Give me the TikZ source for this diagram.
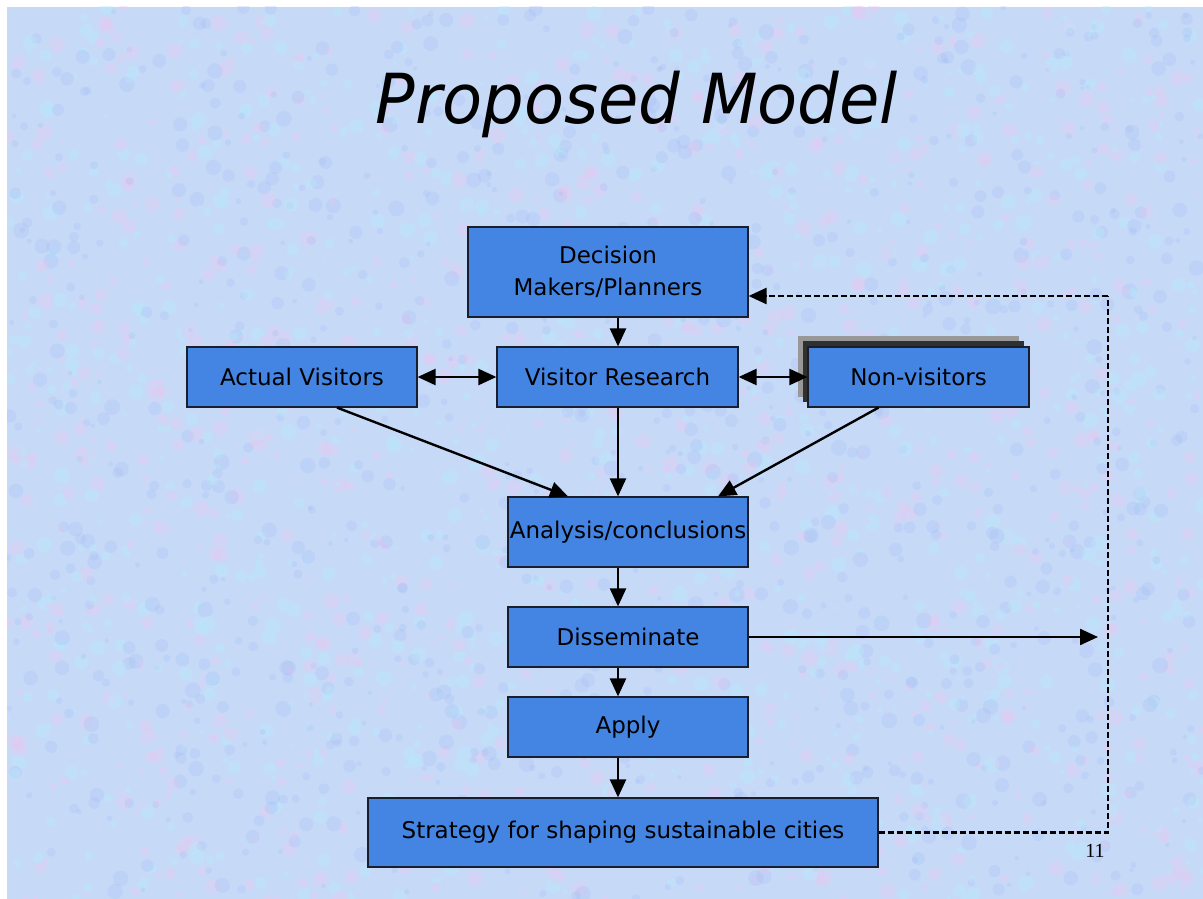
\documentclass[tikz,border=0pt]{standalone}
\usepackage{fontspec}
\setmainfont{DejaVu Sans}
\newfontfamily\numfont{Liberation Serif}
\usetikzlibrary{arrows.meta,calc}
\definecolor{bgbase}{RGB}{198,218,248}
\definecolor{bgpink}{RGB}{234,198,240}
\definecolor{bgcyan}{RGB}{182,234,252}
\definecolor{bgblue}{RGB}{166,190,244}
\definecolor{boxblue}{RGB}{68,133,227}
\definecolor{boxline}{RGB}{25,30,45}
\definecolor{shlight}{RGB}{152,152,152}
\definecolor{shdark}{RGB}{48,48,48}
\tikzset{
  box/.style={draw=boxline, line width=1.2pt, fill=boxblue, inner sep=0pt,
    font=\fontsize{23}{32}\selectfont, align=center, text=black},
  conn/.style={line width=2.4pt, -{Triangle[length=18pt,width=16pt]}},
  dconn/.style={line width=2.4pt, {Triangle[length=18pt,width=16pt]}-{Triangle[length=18pt,width=16pt]}},
  fbline/.style={line width=2.6pt, dash pattern=on 6pt off 3pt},
}
\begin{document}
\begin{tikzpicture}[x=1pt,y=-1pt]
\useasboundingbox (0,0) rectangle (1203,899);
\fill[white] (0,0) rectangle (1203,899);
\fill[bgbase] (7,7) rectangle (1203,899);
\begin{scope}
\clip (7,7) rectangle (1203,899);
\pgfmathsetseed{42}
\foreach \i in {1,...,3000}{
  \pgfmathsetmacro{\px}{7+rnd*1196}
  \pgfmathsetmacro{\py}{7+rnd*892}
  \pgfmathsetmacro{\pr}{2+rnd*6}
  \pgfmathsetmacro{\pc}{rnd}
  \ifdim\pc pt<0.33pt
    \fill[bgpink, opacity=0.35] (\px,\py) circle[radius=\pr];
  \else\ifdim\pc pt<0.66pt
    \fill[bgcyan, opacity=0.35] (\px,\py) circle[radius=\pr];
  \else
    \fill[bgblue, opacity=0.28] (\px,\py) circle[radius=\pr];
  \fi\fi
}
\end{scope}

% title
\node[anchor=base, inner sep=0pt, font=\fontsize{69}{80}\selectfont\itshape] (title) at (637,123) {\scalebox{0.95}[1]{Proposed Model}};

% shadows of Non-visitors
\fill[shlight] (798,336) rectangle (1019,397);
\fill[shdark] (803,341) rectangle (1024,402);

% boxes
\node[box, minimum width=280pt, minimum height=90pt] (dm) at (608,272) {Decision\\Makers/Planners};
\node[box, minimum width=230pt, minimum height=60pt] (av) at (302,377) {Actual Visitors};
\node[box, minimum width=241pt, minimum height=60pt] (vr) at (617.5,377) {Visitor Research};
\node[box, minimum width=221pt, minimum height=60pt] (nv) at (918.5,377) {Non-visitors};
\node[box, minimum width=240pt, minimum height=70pt] (an) at (628,532) {Analysis/conclusions};
\node[box, minimum width=240pt, minimum height=60pt] (di) at (628,637) {Disseminate};
\node[box, minimum width=240pt, minimum height=60pt] (ap) at (628,727) {Apply};
\node[box, minimum width=510pt, minimum height=69pt] (st) at (623,832.5) {Strategy for shaping sustainable cities};

\node[inner sep=0pt, font=\numfont\fontsize{20}{24}\selectfont] (pg) at (1095,851) {11};

% helper coordinates
\coordinate (ax) at (618,0);
\coordinate (fb) at (1108,0);
\coordinate (dissend) at (1098,637);
\coordinate (dmin) at ($(dm.east)+(0,24)$);

% connectors
\draw[conn] (dm.south -| ax) -- (vr.north -| ax);
\draw[dconn] (av.east) -- (vr.west);
\draw[dconn] (vr.east) -- (nv.west);
\draw[conn] ($(av.south)+(35,0)$) -- ($(an.north)+(-60,0)$);
\draw[conn] (vr.south -| ax) -- (an.north -| ax);
\draw[conn] ($(nv.south)+(-40,0)$) -- ($(an.north)+(90,0)$);
\draw[conn] (an.south -| ax) -- (di.north -| ax);
\draw[conn] (di.south -| ax) -- (ap.north -| ax);
\draw[conn] (ap.south -| ax) -- (st.north -| ax);
\draw[conn] (di.east) -- (dissend);
\draw[fbline] (st.east) -| (fb |- dmin);
\draw[fbline, -{Triangle[length=18pt,width=16pt]}] (fb |- dmin) -- (dmin);
\end{tikzpicture}
\end{document}
